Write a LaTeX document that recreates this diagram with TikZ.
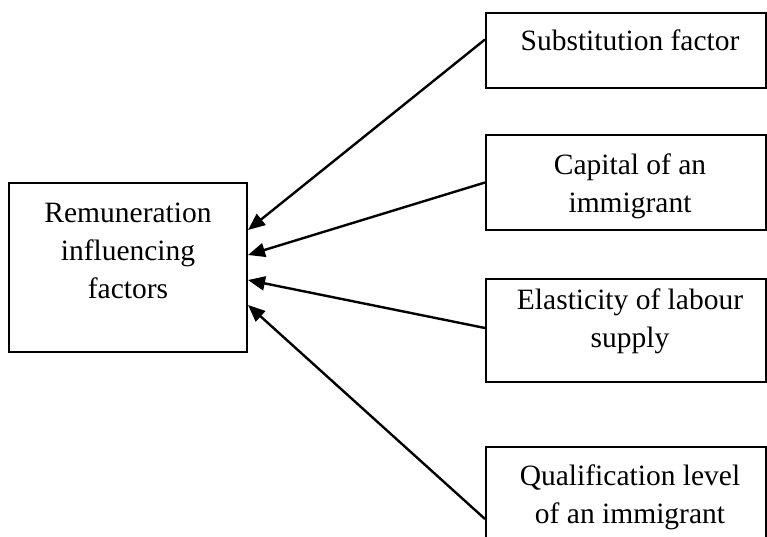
\documentclass[tikz,border=0pt]{standalone}
\usepackage{fontspec}
\setmainfont{Liberation Serif}
\usetikzlibrary{arrows.meta}
\begin{document}
\begin{tikzpicture}[x=1pt,y=-1pt,
  box/.style={draw=black,line width=2pt,inner sep=0pt,fill=none},
  lbl/.style={font=\fontsize{29.5}{38}\selectfont,align=center,inner sep=0pt,anchor=base},
  conn/.style={draw=black,line width=2.4pt,-{Triangle[length=17pt,width=14pt]}}]
\clip (0,0) rectangle (767,536);
\fill[white] (0,0) rectangle (767,536);
% boxes
\node[box,minimum width=238pt,minimum height=169pt] (rem) at (128,267.5) {};
\node[box,minimum width=280pt,minimum height=75pt] (sub) at (626,50.5) {};
\node[box,minimum width=280pt,minimum height=95pt] (cap) at (626,182.5) {};
\node[box,minimum width=280pt,minimum height=103pt] (ela) at (626,330.5) {};
\node[box,minimum width=280pt,minimum height=153pt] (qua) at (626,523.5) {};
% texts (anchored at the baseline of the last line)
\node[lbl] (remt) at (128,298) {Remuneration\\influencing\\factors};
\node[lbl] (subt) at (630,50) {Substitution factor};
\node[lbl] (capt) at (630,212) {Capital of an\\immigrant};
\node[lbl] (elat) at (630,347) {Elasticity of labour\\supply};
\node[lbl] (quat) at (630,523) {Qualification level\\of an immigrant};
% connectors
\draw[conn] ([yshift=11pt]sub.west) -- ([yshift=37.5pt]rem.east);
\draw[conn] (cap.west) -- ([yshift=12.5pt]rem.east);
\draw[conn] ([yshift=2.5pt]ela.west) -- ([yshift=-12.5pt]rem.east);
\draw[conn] ([yshift=4.5pt]qua.west) -- ([yshift=-37.5pt]rem.east);
\end{tikzpicture}
\end{document}
